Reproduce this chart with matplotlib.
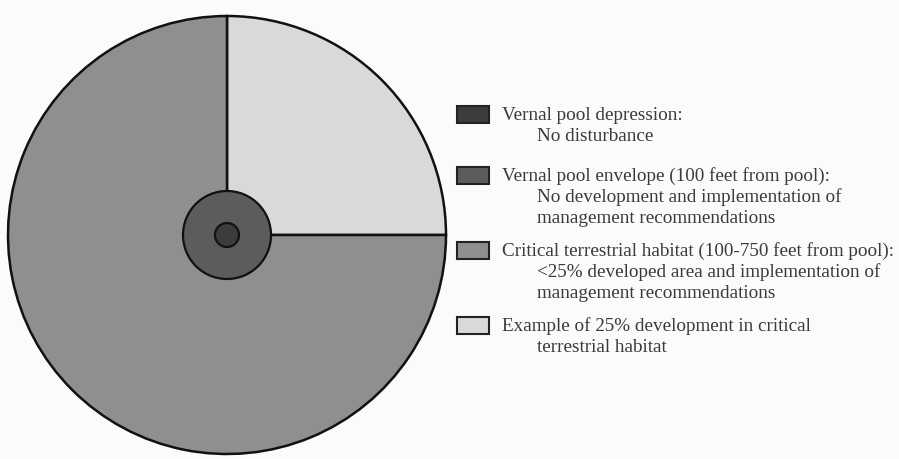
import matplotlib.pyplot as plt
from matplotlib.patches import Circle, Rectangle

# zone shares of the outer ring (developed example vs remaining habitat)
ring_labels = ['Example of 25% development', 'Critical terrestrial habitat']
ring_values = [25, 75]

legend_titles = [
    'Vernal pool depression:',
    'Vernal pool envelope (100 feet from pool):',
    'Critical terrestrial habitat (100-750 feet from pool):',
    'Example of 25% development in critical',
]
legend_details = [
    ['No disturbance'],
    ['No development and implementation of', 'management recommendations'],
    ['<25% developed area and implementation of', 'management recommendations'],
    ['terrestrial habitat'],
]
zone_colors = ['#3c3c3c', '#5c5c5c', '#8f8f8f', '#d9d9d9']

fig = plt.figure(figsize=(8.99, 4.60), dpi=100, facecolor='#fbfbfb')
ax = fig.add_axes([0, 0, 1, 1])

cx, cy, r = 227, 224, 219
ax.pie(ring_values, colors=[zone_colors[3], zone_colors[2]], startangle=0,
       counterclock=True, center=(cx, cy), radius=r,
       wedgeprops=dict(edgecolor='#111111', linewidth=1.8))
ax.set_xlim(0, 899)
ax.set_ylim(0, 460)
ax.set_aspect('equal')
ax.axis('off')

ax.add_patch(Circle((cx, cy), 44, facecolor=zone_colors[1], edgecolor='#111111', lw=1.6))
ax.add_patch(Circle((cx, cy), 12, facecolor=zone_colors[0], edgecolor='#111111', lw=1.6))

# legend
tops = [115, 176, 251, 326]
font = dict(family='Liberation Serif', fontsize=13.8, color='#3a3a3a', va='center')
for i, (title, details) in enumerate(zip(legend_titles, legend_details)):
    y = 460 - tops[i]
    ax.add_patch(Rectangle((457, y - 8.5), 32, 17, facecolor=zone_colors[i],
                           edgecolor='#222222', lw=1.5))
    ax.text(502, y, title, **font)
    for j, line in enumerate(details):
        ax.text(537, y - 21.5 * (j + 1), line, **font)

fig.savefig('out.png', dpi=100, facecolor=fig.get_facecolor())
